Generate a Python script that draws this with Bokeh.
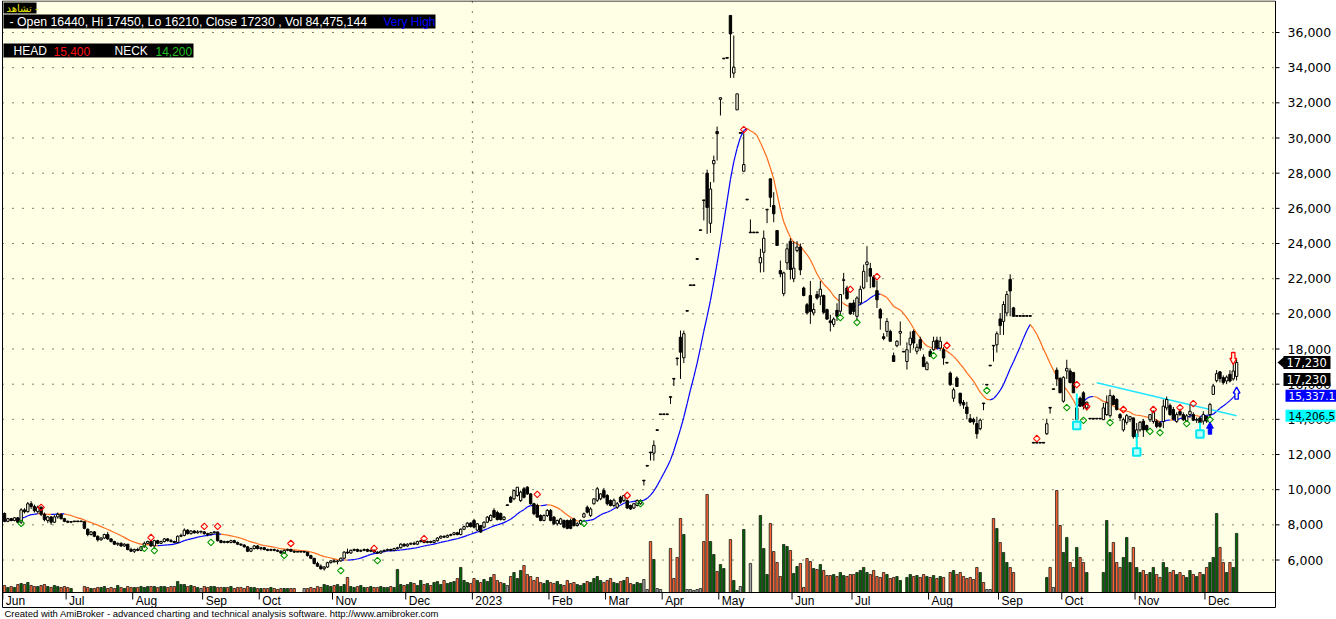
import numpy as np
from bokeh.plotting import figure
from bokeh.models import Range1d, Label, BoxAnnotation
from bokeh.core.properties import value
from bokeh.embed import file_html
from bokeh.resources import INLINE

# ---------------- data ----------------
month_labels = ["Jun", "Jul", "Aug", "Sep", "Oct", "Nov", "Dec", "2023", "Feb", "Mar", "Apr",
                "May", "Jun", "Jul", "Aug", "Sep", "Oct", "Nov", "Dec"]
month_first_bar = [0, 19, 39, 60, 77, 99, 121, 141, 164, 181, 198, 215, 237, 255, 278, 299, 318, 340, 361]
price_ticks = list(range(6000, 36001, 2000))

opens = (
    [8650, 8200, 8350, 8250, 8400, 8150, 8850, 8750, 9200, 9050, 8750, 9000, 8600, 8250, 8450, 8150, 8450, 8600, 8350]
    + [8200, 8150, 8180, 8180, 8180, 8180, 7750, 7450, 7600, 7350, 7150, 7250, 7450, 7200, 7050, 6900, 6950, 6800, 6900, 6600]
    + [6500, 6600, 6550, 6750, 6950, 7050, 6800, 7100, 6950, 7050, 7200, 7100, 7050, 7000, 7350, 7400, 7700, 7500, 7650, 7550, 7600]
    + [7600, 7500, 7450, 7550, 7600, 7100, 7000, 7050, 7000, 7100, 7000, 6900, 6850, 6750, 6500, 6650, 6800]
    + [6650, 6700, 6600, 6550, 6600, 6550, 6500, 6400, 6550, 6600, 6500, 6450, 6450, 6450, 6450, 6250, 6100, 5800, 5650, 5500, 5600, 5850]
    + [5950, 5900, 5950, 6100, 6450, 6400, 6550, 6600, 6500, 6550, 6600, 6500, 6550, 6450, 6400, 6500, 6550, 6600, 6550, 6650, 6700, 6900]
    + [6800, 6900, 6950, 6900, 7050, 7100, 7000, 7050, 7000, 7100, 7250, 7350, 7300, 7400, 7450, 7550, 7450, 7750, 7900, 8100]
    + [8250, 7700, 7960, 7870, 8150, 8250, 8820, 8700, 8650, 8300, 9100, 9570, 9480, 9670, 9380, 10050, 10140, 9760, 9200, 9100, 8530, 8250, 8530]
    + [8820, 8440, 8060, 8060, 8250, 8250, 8250, 8340, 7960, 8060, 8440, 9000, 8530, 9200, 9400, 9480, 9950]
    + [9670, 9380, 9100, 9000, 9570, 9380, 9380, 9100, 8960, 9100, 9200, 10500, 11340, 12110, 12080, 13370, 14270]
    + [14270, 14270, 15260, 16300, 17460, 18670, 17500, 20150, 21610, 21610, 23100, 24740, 26450, 28000, 25150, 28530, 30370]
    + [32200, 34500, 34540, 36970, 33690, 31600, 30270, 28110, 26480, 24610, 24610, 24610, 22900, 23500, 25910, 27680, 26160, 24740, 22460, 21150, 22900, 24130]
    + [22000, 23600, 23800, 21470, 20520, 21040, 20050, 21100, 21000, 21040, 20240, 19600, 19400, 20200, 20150, 21900, 21470, 20600]
    + [20620, 19860, 20620, 21470, 22800, 22580, 22100, 21320, 20240, 18700, 19000, 19000, 17620, 18190, 18900, 17830, 17290, 18240, 19000, 17870, 18530, 17540, 16820]
    + [17870, 17960, 18500, 18050, 17960, 17200, 16630, 15200, 16350, 15490, 14960, 14700, 14040, 14000, 13760, 13470, 14900, 15950, 17040, 18180, 18240]
    + [19710, 19570, 20050, 21960, 20340, 19860, 19860, 19860, 19860, 19860, 12650, 12650, 12650, 12650, 13180, 14650, 15700, 16800, 16320]
    + [15030, 16750, 16750, 16660, 13980, 15200, 15510, 14650, 14020, 14020, 14020, 14020, 13980, 14270, 14210, 15320, 15130, 14270, 13400, 13830, 14000, 14080]
    + [13000, 13400, 13900, 13650, 13980, 13880, 13900, 13800, 13880, 14650, 14790, 14560, 13880, 14450, 14270, 13900, 14270, 14270, 13950, 14080, 13900]
    + [14180, 14270, 15420, 16200, 16700, 16370, 16180, 16560, 16300, 16440]
)
highs = (
    [8700, 8400, 8400, 8450, 8450, 8950, 8950, 9300, 9350, 9150, 9100, 9050, 8700, 8500, 8500, 8550, 8700, 8650, 8400]
    + [8250, 8200, 8180, 8180, 8180, 8180, 7800, 7650, 7650, 7400, 7300, 7500, 7600, 7250, 7100, 7000, 7000, 6950, 6900, 6700]
    + [6650, 6700, 6800, 7050, 7100, 7100, 7150, 7150, 7100, 7250, 7250, 7200, 7100, 7400, 7500, 7800, 7750, 7700, 7700, 7700, 7600]
    + [7650, 7550, 7600, 7650, 7600, 7150, 7100, 7100, 7150, 7150, 7050, 6950, 6900, 6800, 6700, 6850, 6850]
    + [6750, 6750, 6650, 6650, 6650, 6600, 6550, 6600, 6650, 6650, 6550, 6450, 6450, 6500, 6450, 6300, 6100, 5900, 5750, 5650, 5900, 6000]
    + [6050, 6000, 6150, 6500, 6650, 6600, 6650, 6650, 6600, 6650, 6650, 6600, 6600, 6500, 6550, 6600, 6650, 6650, 6700, 6750, 6950, 6950]
    + [6950, 7000, 7050, 7100, 7150, 7150, 7100, 7100, 7150, 7300, 7400, 7400, 7450, 7500, 7600, 7600, 7800, 7950, 8150, 8150]
    + [8350, 8100, 8000, 8200, 8500, 8600, 8950, 8800, 8700, 8500, 9100, 9650, 10000, 10150, 9950, 10150, 10200, 9800, 9250, 9200, 8600, 8600, 8900]
    + [8900, 8500, 8300, 8400, 8300, 8300, 8350, 8400, 8150, 8300, 8700, 9100, 9000, 9500, 10150, 9800, 10100]
    + [9750, 9450, 9500, 9300, 9650, 9700, 9450, 9150, 9250, 9450, 9450, 10500, 11340, 12110, 12800, 13370, 14270]
    + [14270, 14270, 15260, 16300, 17460, 19050, 19050, 20150, 21610, 21610, 23100, 24740, 26450, 28200, 27500, 29000, 30650]
    + [32290, 34540, 34540, 36970, 35830, 32510, 30270, 30270, 26480, 25370, 24610, 24610, 23700, 24740, 25920, 27680, 26920, 24740, 23030, 22400, 24000, 24300]
    + [24130, 24130, 24000, 21550, 20620, 21870, 20600, 21300, 21870, 21100, 20300, 19950, 19800, 20600, 21100, 22330, 21600, 20600]
    + [20800, 21000, 21600, 22800, 23850, 22900, 22200, 21900, 20330, 18900, 19760, 19100, 17800, 18500, 19570, 17830, 18380, 19000, 19100, 18300, 18700, 17700, 17300]
    + [18000, 18700, 18700, 18700, 18100, 17200, 16720, 15800, 16450, 15500, 15100, 15000, 14300, 14100, 14150, 14050, 14900, 15950, 17040, 18180, 19000]
    + [20050, 20720, 21300, 22250, 20400, 19860, 19860, 19860, 19860, 19860, 12650, 12650, 12650, 12650, 14040, 14650, 15700, 16950, 16400]
    + [16450, 17390, 16900, 16700, 14650, 15300, 15600, 15000, 14020, 14020, 14020, 14020, 14940, 15360, 15700, 15400, 15200, 14360, 14100, 14300, 14200, 14100]
    + [13790, 13900, 14000, 13700, 14300, 14500, 14000, 13900, 15130, 15300, 14900, 14700, 14400, 14600, 14400, 14300, 14840, 14400, 14100, 14150, 14460]
    + [14200, 14940, 16000, 16800, 16750, 16500, 16500, 16800, 17200, 17450]
)
lows = (
    [8150, 8150, 8200, 8200, 8100, 8050, 8650, 8700, 8900, 8700, 8650, 8500, 8200, 8100, 8000, 8100, 8350, 8300, 8150]
    + [8100, 8100, 8180, 8180, 8180, 7750, 7350, 7400, 7300, 7050, 7100, 7200, 7150, 7000, 6850, 6800, 6750, 6750, 6550, 6450]
    + [6400, 6500, 6500, 6700, 6900, 6750, 6750, 6900, 6900, 7000, 7050, 7000, 6950, 6950, 7300, 7350, 7450, 7450, 7500, 7500, 7500]
    + [7450, 7350, 7400, 7500, 7050, 6950, 6950, 6950, 6950, 6950, 6850, 6800, 6700, 6450, 6450, 6600, 6600]
    + [6550, 6550, 6500, 6500, 6500, 6450, 6350, 6350, 6500, 6450, 6400, 6450, 6450, 6400, 6200, 6050, 5750, 5600, 5450, 5400, 5550, 5800]
    + [5850, 5750, 5900, 6050, 6350, 6350, 6500, 6450, 6450, 6500, 6450, 6450, 6400, 6350, 6350, 6450, 6500, 6500, 6500, 6600, 6650, 6750]
    + [6750, 6850, 6850, 6850, 7000, 6950, 6950, 6950, 6950, 7050, 7200, 7250, 7250, 7350, 7400, 7400, 7400, 7700, 7850, 7850]
    + [7800, 7650, 7550, 7800, 8100, 8200, 8400, 8250, 8250, 8250, 9100, 9250, 9400, 9600, 9300, 9500, 9700, 9150, 8550, 8400, 8200, 8200, 8450]
    + [8200, 8000, 7950, 8000, 7800, 7750, 7750, 7900, 7900, 8000, 8400, 8650, 8450, 9150, 9300, 9400, 9500]
    + [9100, 9050, 9000, 8900, 9200, 9300, 8900, 8850, 8900, 9050, 9150, 10240, 11340, 11660, 11650, 13370, 14270]
    + [14270, 14270, 14880, 15900, 17060, 16300, 17200, 20150, 21610, 21610, 23100, 24740, 25310, 24550, 24600, 27480, 28720]
    + [31280, 34500, 34540, 33420, 33420, 31600, 30270, 28110, 26480, 24610, 24610, 24610, 22350, 22370, 25160, 26070, 25210, 23890, 22080, 21000, 22500, 21950]
    + [21800, 23500, 22200, 21000, 19950, 19430, 19900, 20800, 20500, 20000, 19670, 19000, 19250, 19600, 19900, 21100, 20800, 19950]
    + [19950, 19600, 20500, 21400, 21800, 21460, 21530, 20330, 19100, 18500, 18700, 18440, 17290, 18100, 18200, 17830, 16830, 17780, 18050, 17700, 17900, 17000, 16820]
    + [17580, 17900, 18050, 17900, 17100, 17200, 15900, 15000, 15870, 14750, 14600, 14000, 13800, 13700, 12900, 13380, 14520, 15950, 17040, 17290, 17800]
    + [18800, 18800, 19860, 19860, 19860, 19860, 19860, 19860, 19860, 19860, 12650, 12650, 12650, 12650, 13120, 14330, 15700, 15900, 15500]
    + [14950, 16300, 16050, 15510, 13700, 14700, 14560, 14500, 14020, 14020, 14020, 14020, 13980, 14200, 14100, 14840, 14500, 13900, 13300, 13700, 13850, 12900]
    + [12350, 13300, 13000, 13300, 13850, 13750, 13500, 13500, 13500, 14500, 14200, 13980, 13800, 14180, 13900, 13850, 14080, 13900, 13800, 13700, 13700]
    + [13800, 14080, 15400, 16100, 16100, 16000, 16000, 16100, 16200, 16210]
)
closes = (
    [8200, 8350, 8250, 8400, 8150, 8850, 8750, 9200, 9050, 8800, 9000, 8600, 8300, 8450, 8150, 8450, 8600, 8350, 8200]
    + [8150, 8180, 8180, 8180, 8180, 7800, 7450, 7600, 7350, 7150, 7250, 7450, 7200, 7050, 6900, 6950, 6800, 6900, 6600, 6500]
    + [6600, 6550, 6750, 6950, 7050, 6800, 7100, 6950, 7050, 7200, 7100, 7050, 7000, 7350, 7400, 7700, 7500, 7650, 7550, 7600, 7600]
    + [7500, 7450, 7550, 7600, 7100, 7000, 7050, 7000, 7100, 7000, 6900, 6850, 6750, 6500, 6650, 6800, 6650]
    + [6700, 6600, 6550, 6600, 6550, 6500, 6400, 6550, 6600, 6500, 6450, 6450, 6450, 6450, 6250, 6100, 5800, 5650, 5500, 5600, 5850, 5950]
    + [5900, 5950, 6100, 6450, 6400, 6550, 6600, 6500, 6550, 6600, 6500, 6550, 6450, 6400, 6500, 6550, 6600, 6550, 6650, 6700, 6900, 6800]
    + [6900, 6950, 6900, 7050, 7100, 7000, 7050, 7000, 7100, 7250, 7350, 7300, 7400, 7450, 7550, 7450, 7750, 7900, 8100, 7900]
    + [7870, 8060, 7590, 8150, 8440, 8530, 8440, 8300, 8300, 8440, 9100, 9290, 9950, 10140, 9860, 9570, 9760, 9200, 8630, 8440, 8250, 8530, 8820]
    + [8250, 8060, 8250, 8340, 7870, 7800, 7800, 7960, 8060, 8250, 8630, 8720, 8900, 9480, 10050, 9760, 9570]
    + [9200, 9100, 9400, 9200, 9290, 9670, 8960, 8900, 9200, 9380, 9380, 10500, 11340, 12100, 12520, 13370, 14270]
    + [14270, 14270, 15250, 16290, 17450, 17820, 18870, 20150, 21610, 21610, 23100, 24740, 26440, 26050, 27100, 28720, 30240]
    + [32290, 34540, 34540, 35920, 34030, 32510, 30270, 28490, 26480, 24610, 24610, 24610, 23200, 24300, 25920, 26630, 25690, 23890, 22270, 22330, 23700, 22520]
    + [22600, 23800, 22500, 21040, 20050, 20140, 20250, 20900, 21400, 20090, 19700, 19500, 19700, 19860, 21100, 21910, 20870, 20000]
    + [20140, 20900, 21400, 22420, 22950, 22140, 21530, 20800, 19760, 18600, 19570, 18440, 17290, 18440, 19000, 17830, 17960, 18620, 18340, 18100, 18050, 17000, 17200]
    + [17580, 18440, 18050, 18440, 17490, 17200, 15970, 15680, 15870, 14920, 14820, 14330, 13850, 13850, 13180, 13950, 14890, 15950, 17040, 18170, 18870]
    + [19330, 20530, 21100, 21300, 19860, 19860, 19860, 19860, 19860, 19860, 12650, 12650, 12650, 12650, 13750, 14640, 15700, 16300, 15510]
    + [16390, 16900, 16090, 15510, 14650, 14750, 14750, 14980, 14020, 14020, 14020, 14020, 14650, 14940, 15360, 14840, 14560, 14080, 13980, 14210, 14150, 13020]
    + [13400, 13830, 13400, 13400, 14270, 14460, 13600, 13600, 14750, 15130, 14270, 14000, 14270, 14270, 13980, 14200, 14460, 13950, 14000, 13800, 14270]
    + [13900, 14840, 15900, 16600, 16320, 16090, 16400, 16180, 16750, 17230]
)
volumes_m = (  # millions of shares
    [10.0, 7.2, 8.6, 7.2, 11.4, 12.9, 11.4, 14.3, 10.0, 8.6, 8.6, 10.0, 11.4, 8.6, 7.2, 10.0, 8.6, 7.2, 8.6]
    + [7.2, 5.7, 0, 0, 0, 8.6, 7.2, 5.7, 5.7, 7.2, 7.2, 8.6, 5.7, 7.2, 5.7, 10.0, 7.2, 5.7, 8.6, 7.2]
    + [7.2, 7.2, 8.6, 7.2, 8.6, 8.6, 8.6, 7.2, 8.6, 8.6, 7.2, 8.6, 8.6, 15.7, 11.4, 11.4, 8.6, 10.0, 8.6, 7.2, 5.7]
    + [8.6, 7.2, 8.6, 8.6, 7.2, 7.2, 7.2, 7.2, 8.6, 5.7, 7.2, 7.2, 5.7, 8.6, 7.2, 7.2, 5.7]
    + [5.7, 5.7, 5.7, 7.2, 5.7, 4.3, 5.7, 5.7, 5.7, 5.7, 5.7, 0, 0, 5.7, 5.7, 7.2, 5.7, 8.6, 7.2, 11.4, 10.0, 8.6]
    + [10.0, 11.4, 8.6, 11.4, 21.5, 8.6, 7.2, 8.6, 10.0, 7.2, 7.2, 8.6, 7.2, 7.2, 8.6, 7.2, 7.2, 8.6, 7.2, 32.9, 11.4, 10.0]
    + [11.4, 14.3, 12.9, 10.0, 17.2, 11.4, 12.9, 10.0, 14.3, 15.7, 11.4, 17.2, 12.9, 14.3, 15.7, 20.0, 35.8, 17.2, 14.3, 12.9]
    + [20.0, 17.2, 14.3, 18.6, 15.7, 21.5, 25.7, 17.2, 14.3, 12.9, 10.0, 22.9, 28.6, 20.0, 31.5, 38.6, 25.7, 22.9, 17.2, 21.5, 14.3, 12.9, 17.2]
    + [14.3, 12.9, 15.7, 11.4, 10.0, 17.2, 12.9, 14.3, 11.4, 10.0, 12.9, 15.7, 14.3, 20.0, 22.9, 17.2, 14.3]
    + [17.2, 20.0, 14.3, 12.9, 15.7, 17.2, 21.5, 12.9, 11.4, 14.3, 12.9, 18.6, 4.3, 72.9, 47.2, 5.7, 4.3]
    + [0, 0, 62.9, 20.0, 50.1, 105.8, 82.9, 4.3, 4.3, 2.9, 4.3, 5.7, 72.9, 140.1, 72.9, 54.3, 30.0]
    + [40.0, 34.3, 0, 75.8, 17.2, 2.9, 8.6, 90.1, 0, 41.5, 0, 0, 110.1, 62.9, 25.7, 98.7, 58.6, 42.9, 22.9, 68.6, 65.8, 60.1]
    + [27.2, 37.2, 41.5, 7.2, 48.6, 44.3, 34.3, 32.9, 40.0, 31.5, 24.3, 24.3, 25.7, 22.9, 28.6, 24.3, 22.9, 25.7]
    + [25.7, 28.6, 31.5, 35.8, 28.6, 25.7, 31.5, 22.9, 21.5, 28.6, 25.7, 20.0, 21.5, 22.9, 17.2, 0, 21.5, 25.7, 22.9, 24.3, 21.5, 25.7, 22.9]
    + [21.5, 24.3, 20.0, 22.9, 21.5, 0, 28.6, 31.5, 25.7, 28.6, 22.9, 20.0, 21.5, 18.6, 35.8, 28.6, 14.3, 4.3, 4.3, 105.8, 91.5]
    + [71.5, 57.2, 42.9, 35.8, 28.6, 0, 0, 0, 0, 0, 0, 0, 0, 0, 21.5, 35.8, 7.2, 145.9, 95.8]
    + [57.2, 78.7, 42.9, 35.8, 64.4, 50.1, 42.9, 28.6, 0, 0, 0, 0, 28.6, 103.0, 57.2, 71.5, 42.9, 35.8, 50.1, 78.7, 42.9, 64.4]
    + [35.8, 28.6, 31.5, 25.7, 28.6, 35.8, 25.7, 21.5, 42.9, 35.8, 28.6, 31.5, 25.7, 28.6, 24.3, 21.5, 31.5, 25.7, 22.9, 28.6, 25.7]
    + [35.8, 42.9, 50.1, 113.0, 64.4, 42.9, 28.6, 42.9, 35.8, 84.5]
)

ma_period = 14
red_sig_bar = [11, 44, 60, 64, 86, 111, 126, 160, 187, 222, 254, 262, 283, 310, 322, 325, 336, 345, 353, 357]
red_sig_price = [8990, 7280, 7910, 7910, 6940, 6660, 7220, 9730, 9670, 30480, 21390, 22120, 18200, 12910,
                 15980, 14730, 14560, 14560, 14670, 14900]
green_sig_bar = [5, 42, 45, 62, 84, 101, 112, 174, 191, 251, 256, 279, 295, 319, 324, 332, 344, 347, 355, 362]
green_sig_price = [8080, 6660, 6540, 7000, 6260, 5400, 5970, 8080, 9210, 19790, 19510, 17630, 15640, 14670,
                   13940, 13820, 13310, 13250, 13760, 13990]
pivot_bar = [322, 340, 359]
pivot_low = [13650, 12140, 13170]
pivot_high = [15470, 13200, 13820]
neck_bar = [328, 370]
neck_price = [16080, 14206.5]
buy_bar, buy_tip = [362], [13840]
cover_bar, cover_tip = [370], [15830]
short_bar, short_tip = [369], [17120]

title_name = "تشاهد -"
title_ohlc = " - Open 16440, Hi 17450, Lo 16210, Close 17230 , Vol 84,475,144"
title_vol_state = "Very High"
head_value, neck_value = "15,400", "14,200"
last_close_txt, ma_last_txt, neck_last_txt = "17,230", "15,337.1", "14,206.5"
last_close, ma_last, neck_last = 17230, 15337.1, 14206.5
footer = "Created with AmiBroker - advanced charting and technical analysis software. http://www.amibroker.com"

# ---------------- layout helpers (reference pixel -> data coordinates) ----------------
PX_PER_BAR = 3.33
X0 = 4.0
PRICE_PER_PX = 56.87
Y_TOP = 37820.0
VOL_PER_PX = 1.43  # millions of shares per pixel
W, H = 1336, 619


def bx(px):
    return (px - X0) / PX_PER_BAR


def py(px):
    return Y_TOP - px * PRICE_PER_PX


BG = "#FFFFE6"
FONT = "Liberation Sans"
AXFONT = "DejaVu Sans"
L, R = bx(2), bx(1275)       # plot box
TOP, BAND, BOT = py(0.5), py(592), py(607)

p = figure(width=W, height=H, x_range=Range1d(bx(0), bx(W)), y_range=Range1d(py(H), py(0)),
           output_backend="svg", toolbar_location=None, x_axis_location=None, y_axis_location=None,
           min_border=0, background_fill_color="white", border_fill_color="white")
p.outline_line_color = None
for g in p.grid:
    g.visible = False
p.extra_y_ranges = {"vol": Range1d(-(H - 592) * VOL_PER_PX, 592 * VOL_PER_PX)}

# chart area background and dotted price grid
p.quad(left=[L], right=[R], top=[py(0)], bottom=[BAND], fill_color=BG, line_alpha=0)
n = len(price_ticks)
p.segment(x0=[L] * n, x1=[R] * n, y0=price_ticks, y1=price_ticks, line_color="black",
          line_dash="1 9", line_width=1)
yr = month_first_bar[7] - 0.5
p.segment(x0=[yr], x1=[yr], y0=[BAND], y1=[TOP], line_color="black", line_dash="1 9", line_width=1)

# ---------------- volume ----------------
o = np.array(opens, float)
h = np.array(highs, float)
l = np.array(lows, float)
c = np.array(closes, float)
v = np.array(volumes_m, float)
idx = np.arange(len(c))
assert len(o) == len(h) == len(l) == len(c) == len(v)

vcol = np.where(c > o, "#006400", np.where(c < o, "#FF6633", "#A0A0A0"))
has_v = v > 0
p.vbar(x=idx[has_v], bottom=0, top=v[has_v], width=0.72, fill_color=list(vcol[has_v]),
       line_color="#1a1a1a", line_width=0.8, y_range_name="vol")

# ---------------- moving average (simple, 14 bars) ----------------
cs = np.cumsum(np.insert(c, 0, 0))
ma = np.array([(cs[i + 1] - cs[max(0, i + 1 - ma_period)]) / min(i + 1, ma_period) for i in range(len(c))])
rising = ma[1:] >= ma[:-1]
p.segment(x0=idx[:-1], y0=ma[:-1], x1=idx[1:], y1=ma[1:],
          line_color=list(np.where(rising, "#0000FF", "#FF6A1A")), line_width=1.2)

# neckline
p.line(neck_bar, neck_price, line_color="#22E5FF", line_width=1.6)

# ---------------- candles ----------------
p.segment(x0=idx, y0=l, x1=idx, y1=h, line_color="black", line_width=1)
blo = np.minimum(o, c)
bhi = np.maximum(np.maximum(o, c), blo + 0.7 * PRICE_PER_PX)
p.vbar(x=idx, bottom=blo, top=bhi, width=0.72, fill_color=list(np.where(c > o, BG, "black")),
       line_color="black", line_width=1)

# ---------------- signals ----------------
p.scatter(red_sig_bar, red_sig_price, marker="square", angle=np.pi / 4, size=4.6,
          fill_alpha=0, line_color="#FF0000", line_width=1.1)
p.scatter(green_sig_bar, green_sig_price, marker="square", angle=np.pi / 4, size=4.6,
          fill_alpha=0, line_color="#009900", line_width=1.1)
p.segment(x0=pivot_bar, x1=pivot_bar, y0=pivot_low, y1=pivot_high, line_color="#00FFFF", line_width=2)
p.scatter(pivot_bar, pivot_low, marker="square", size=7.5, fill_color="#B8FFFF", line_color="#00E8F0",
          line_width=2)


def arrow(xb, tip, up):
    s = 1 if up else -1
    hw, sw, hh, tl = 3.4 / PX_PER_BAR, 1.7 / PX_PER_BAR, 6 * PRICE_PER_PX, 12 * PRICE_PER_PX
    xs = [xb, xb + hw, xb + sw, xb + sw, xb - sw, xb - sw, xb - hw]
    ys = [tip, tip - s * hh, tip - s * hh, tip - s * tl, tip - s * tl, tip - s * hh, tip - s * hh]
    return xs, ys


for xb, t in zip(buy_bar, buy_tip):
    xs, ys = arrow(xb, t, True)
    p.patch(xs, ys, fill_color="#0000FF", line_color="#0000FF", line_width=1)
for xb, t in zip(cover_bar, cover_tip):
    xs, ys = arrow(xb, t, True)
    p.patch(xs, ys, fill_color=BG, line_color="#0000FF", line_width=1.3)
for xb, t in zip(short_bar, short_tip):
    xs, ys = arrow(xb, t, False)
    p.patch(xs, ys, fill_color=BG, line_color="#FF0000", line_width=1.3)

# ---------------- frame, date band, price scale ----------------
p.quad(left=[L], right=[R], top=[TOP], bottom=[BOT], fill_alpha=0, line_color="black", line_width=1)
p.segment(x0=[L], x1=[R], y0=[BAND], y1=[BAND], line_color="black", line_width=1)

mt = [m - 0.5 for m in month_first_bar]
p.segment(x0=mt, x1=mt, y0=[BAND] * len(mt), y1=[py(599)] * len(mt), line_color="black", line_width=1)
p.text(x=mt, y=[py(600)] * len(mt), text=month_labels, x_offset=3, text_baseline="middle",
       text_align="left", text_font=value(FONT), text_font_size="12px", text_color="black")

p.segment(x0=[R] * n, x1=[bx(1279)] * n, y0=price_ticks, y1=price_ticks, line_color="black", line_width=1)
p.text(x=[bx(1287)] * n, y=price_ticks, text=[f"{t:,}" for t in price_ticks], text_baseline="middle",
       text_align="left", text_font=value(AXFONT), text_font_size="12.5px", text_color="black")

# right-hand value boxes (last close x2, moving average, neckline)
box_specs = [  # y value, text, left px, right px, height px, bg, fg, font size
    (last_close, last_close_txt, 1283, 1330, 13, "black", "white", "11.5px"),
    (last_close - 17 * PRICE_PER_PX, last_close_txt, 1283, 1330, 13, "black", "white", "11.5px"),
    (ma_last, ma_last_txt, 1285, 1336, 12, "#0000FF", "white", "10.5px"),
    (neck_last, neck_last_txt, 1285, 1335, 12, "#00FFFF", "black", "10.5px"),
]
for (yv, txt, x1, x2, hp, bg, fg, fs) in box_specs:
    p.quad(left=[bx(x1)], right=[bx(x2)], top=[yv + hp / 2 * PRICE_PER_PX], bottom=[yv - hp / 2 * PRICE_PER_PX],
           fill_color=bg, line_alpha=0)
    p.text(x=[bx(x1 + 3)], y=[yv], text=[txt], text_baseline="middle", text_align="left",
           text_font=value(AXFONT), text_font_size=fs, text_color=fg)
p.patch([bx(1277), bx(1284), bx(1284)], [last_close, last_close + 6 * PRICE_PER_PX, last_close - 6 * PRICE_PER_PX],
        fill_color="black", line_alpha=0)

p.text(x=[bx(4)], y=[py(613)], text=[footer], text_baseline="middle", text_align="left",
       text_font=value(FONT), text_font_size="9.5px", text_color="black")

# ---------------- header boxes ----------------
for (x1, y1, x2, y2) in [(3, 2, 36, 13), (3, 14, 435, 28), (3, 43, 193, 57)]:
    p.add_layout(BoxAnnotation(left=bx(x1), right=bx(x2), top=py(y1), bottom=py(y2),
                               fill_color="black", fill_alpha=1, line_alpha=0))


def lab(xpx, ypx, txt, color, size="12px", font=FONT):
    p.add_layout(Label(x=bx(xpx), y=py(ypx), text=txt, text_color=color, text_font=font,
                       text_font_size=size, text_baseline="middle", text_align="left"))


lab(6, 8, title_name, "#E8E800", "10px", AXFONT)
lab(9, 21.5, title_ohlc, "white", "12.3px")
lab(383, 21.5, title_vol_state, "#0000FF")
lab(13, 50.5, "HEAD", "white")
lab(53, 50.5, head_value, "#FF1010")
lab(114, 50.5, "NECK", "white")
lab(155, 50.5, neck_value, "#20C020")

open("out.html", "w").write(file_html(p, INLINE))
